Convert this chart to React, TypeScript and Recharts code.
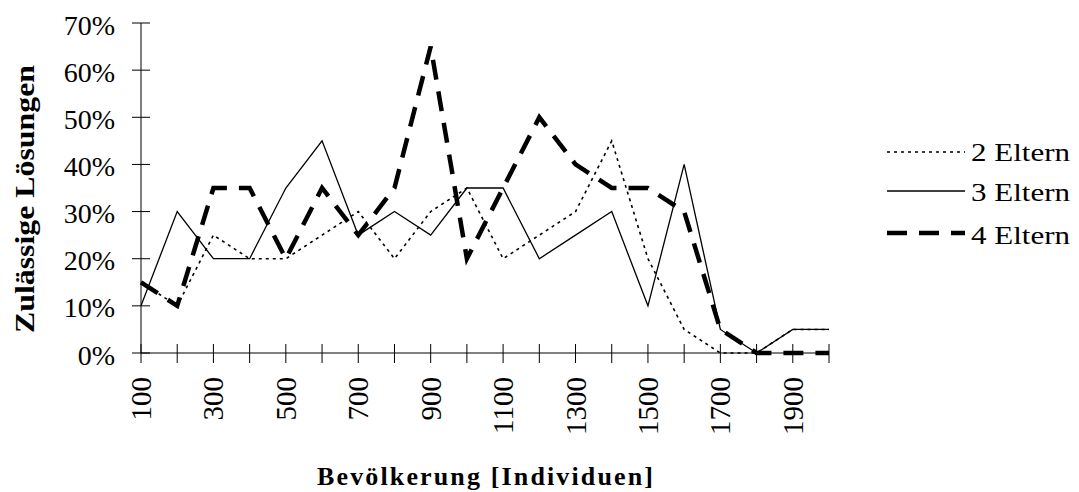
import React from "react";
import { Line, LineChart, XAxis, YAxis } from "recharts";

const populations = [
  100, 200, 300, 400, 500, 600, 700, 800, 900, 1000, 1100, 1200, 1300, 1400,
  1500, 1600, 1700, 1800, 1900, 2000,
];
const shownLabels = [100, 300, 500, 700, 900, 1100, 1300, 1500, 1700, 1900];
const yTicks = [0, 10, 20, 30, 40, 50, 60, 70];

// Anteil zulässiger Lösungen in Prozent
const zweiEltern = [15, 10, 25, 20, 20, 25, 30, 20, 30, 35, 20, 25, 30, 45, 20, 5, 0, 0, 5, 5];
const dreiEltern = [10, 30, 20, 20, 35, 45, 25, 30, 25, 35, 35, 20, 25, 30, 10, 40, 5, 0, 5, 5];
const vierEltern = [15, 10, 35, 35, 20, 35, 25, 35, 65, 20, 35, 50, 40, 35, 35, 30, 5, 0, 0, 0];

const FONT = '"Liberation Serif", "Times New Roman", serif';

const series = [
  { key: "e2", name: "2 Eltern", width: 1.6, dash: "3 4" },
  { key: "e3", name: "3 Eltern", width: 1.3, dash: undefined },
  { key: "e4", name: "4 Eltern", width: 4.5, dash: "20 12" },
];

const data = populations.map((p, i) => ({
  pop: p,
  e2: zweiEltern[i],
  e3: dreiEltern[i],
  e4: vierEltern[i],
}));

function XTick(props: any) {
  const { x, y, payload } = props;
  const show = shownLabels.includes(payload.value);
  return (
    <g>
      <line x1={x} x2={x} y1={y - 9} y2={y + 10} stroke="#000" strokeWidth={1} />
      {show && (
        <text
          transform={`translate(${x},${y + 24}) rotate(-90)`}
          textAnchor="end"
          dominantBaseline="central"
          fontSize={29}
          fontFamily={FONT}
          fill="#000"
        >
          {payload.value}
        </text>
      )}
    </g>
  );
}

function YTick(props: any) {
  const { x, y, payload } = props;
  return (
    <g>
      <line x1={x - 9} x2={x + 9} y1={y} y2={y} stroke="#000" strokeWidth={1} />
      <text
        x={x - 26}
        y={y + 2}
        textAnchor="end"
        dominantBaseline="central"
        fontSize={28}
        fontFamily={FONT}
        fill="#000"
      >
        {payload.value}%
      </text>
    </g>
  );
}

function XTitle(props: any) {
  const { viewBox } = props;
  const cx = viewBox.x + viewBox.width / 2;
  return (
    <text
      x={cx}
      y={485}
      textAnchor="middle"
      fontSize={26}
      fontWeight="bold"
      fontFamily={FONT}
      textLength={336}
      lengthAdjust="spacing"
      fill="#000"
    >
      Bevölkerung [Individuen]
    </text>
  );
}

function YTitle(props: any) {
  const { viewBox } = props;
  const cy = viewBox.y + viewBox.height / 2 + 11;
  return (
    <text
      transform={`translate(25,${cy}) rotate(-90)`}
      textAnchor="middle"
      dominantBaseline="central"
      fontSize={27}
      fontWeight="bold"
      fontFamily={FONT}
      textLength={268}
      lengthAdjust="spacingAndGlyphs"
      fill="#000"
    >
      Zulässige Lösungen
    </text>
  );
}

function LegendBox() {
  const rows = [22, 61, 103];
  return (
    <svg width={199} height={130} style={{ position: "absolute", left: 880, top: 130 }}>
      {series.map((s, i) => (
        <g key={s.key}>
          <line
            x1={7}
            x2={85}
            y1={rows[i]}
            y2={rows[i]}
            stroke="#000"
            strokeWidth={s.width}
            strokeDasharray={s.dash}
          />
          <text
            x={91}
            y={rows[i] + 9 + i}
            fontSize={25}
            fontFamily={FONT}
            textLength={99}
            lengthAdjust="spacingAndGlyphs"
            fill="#000"
          >
            {s.name}
          </text>
        </g>
      ))}
    </svg>
  );
}

export default function App() {
  return (
    <div
      style={{ position: "absolute", left: 0, top: 0, width: 1079, height: 492, background: "#fff" }}
    >
      <LineChart
        width={1079}
        height={492}
        data={data}
        margin={{ top: 23, right: 250, bottom: 0, left: 0 }}
        style={{ fontFamily: FONT }}
      >
        <XAxis
          dataKey="pop"
          type="category"
          interval={0}
          height={139}
          tickSize={0}
          tickMargin={0}
          tickLine={false}
          axisLine={{ stroke: "#000", strokeWidth: 1 }}
          tick={<XTick />}
          label={<XTitle />}
        />
        <YAxis
          type="number"
          domain={[0, 70]}
          ticks={yTicks}
          interval={0}
          width={141}
          tickSize={0}
          tickMargin={0}
          tickLine={false}
          axisLine={{ stroke: "#000", strokeWidth: 1 }}
          tick={<YTick />}
          label={<YTitle />}
        />
        {series.map((s) => (
          <Line
            key={s.key}
            type="linear"
            dataKey={s.key}
            name={s.name}
            stroke="#000"
            strokeWidth={s.width}
            strokeDasharray={s.dash}
            dot={false}
            activeDot={false}
            isAnimationActive={false}
          />
        ))}
      </LineChart>
      <LegendBox />
    </div>
  );
}
